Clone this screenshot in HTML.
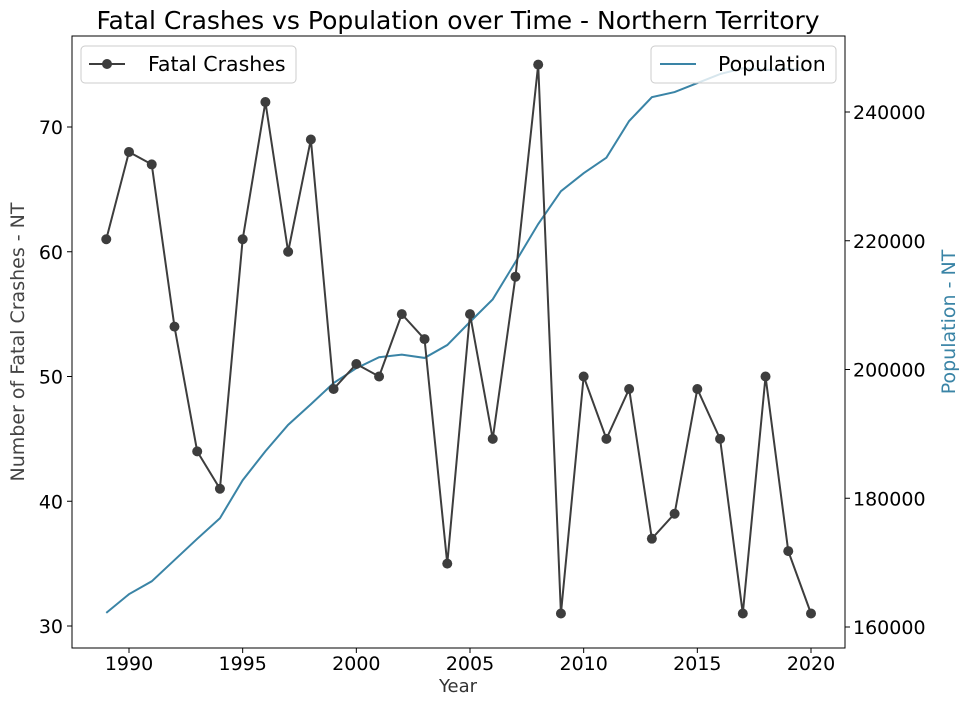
<!DOCTYPE html>
<html><head><meta charset="utf-8"><style>
body{margin:0;background:#fff;}
svg{display:block;font-family:"DejaVu Sans","Liberation Sans",sans-serif;}
</style></head><body>
<svg id="chart" width="969" height="705"></svg>
<script>
const years=[1989,1990,1991,1992,1993,1994,1995,1996,1997,1998,1999,2000,2001,2002,2003,2004,2005,2006,2007,2008,2009,2010,2011,2012,2013,2014,2015,2016,2017,2018,2019,2020];
const crashes=[61,68,67,54,44,41,61,72,60,69,49,51,50,55,53,35,55,45,58,75,31,50,45,49,37,39,49,45,31,50,36,31];
const population=[162200,165100,167100,170400,173700,176900,182800,187300,191400,194600,197900,200200,201900,202300,201800,203800,207400,210900,216700,222600,227700,230500,232900,238600,242300,243100,244500,245900,246800,246500,246700,246500];
const xTicks=[1990,1995,2000,2005,2010,2015,2020];
const yTicks=[30,40,50,60,70];
const y2Ticks=[160000,180000,200000,220000,240000];

const svg=document.getElementById('chart');
const NS='http://www.w3.org/2000/svg';
const L=72,R=845,T=36,B=648;
const x=v=>129+(v-1990)*(811-129)/30;
const y=v=>626-(v-30)*(626-127)/40;
const y2=v=>627-(v-160000)*(627-112)/80000;
function mk(tag,attrs,parent){const e=document.createElementNS(NS,tag);for(const k in attrs)e.setAttribute(k,attrs[k]);(parent||svg).appendChild(e);return e;}

const frame=mk('rect',{x:L,y:T,width:R-L,height:B-T,fill:'none',stroke:'#000','stroke-width':1});



xTicks.forEach(v=>{
  const t=mk('line',{x1:x(v),x2:x(v),y1:B,y2:B+5,stroke:'#000'});
  
  
  const l=mk('text',{x:x(v),y:B+22,'text-anchor':'middle','font-size':19});
  l.textContent=v;
  
  
});
yTicks.forEach(v=>{
  const t=mk('line',{x1:L-5,x2:L,y1:y(v),y2:y(v),stroke:'#000'});
  
  
  const l=mk('text',{x:L-9,y:y(v)+7,'text-anchor':'end','font-size':19});
  l.textContent=v;
  
  
});
y2Ticks.forEach(v=>{
  const t=mk('line',{x1:R,x2:R+5,y1:y2(v),y2:y2(v),stroke:'#000'});
  
  
  const l=mk('text',{x:R+8,y:y2(v)+7,'font-size':19});
  l.textContent=v;
  
  
});

const pl=mk('polyline',{points:years.map((yr,i)=>x(yr)+','+y2(population[i])).join(' '),fill:'none',stroke:'#3a84a6','stroke-width':2});



const cl=mk('polyline',{points:years.map((yr,i)=>x(yr)+','+y(crashes[i])).join(' '),fill:'none',stroke:'#3d3d3d','stroke-width':2});


years.forEach((yr,i)=>{
  const c=mk('circle',{cx:x(yr),cy:y(crashes[i]),r:5,fill:'#3d3d3d'});
  
  
});

const title=mk('text',{x:458,y:29,'text-anchor':'middle','font-size':25});
title.textContent='Fatal Crashes vs Population over Time - Northern Territory';


const xt=mk('text',{x:458,y:692,'text-anchor':'middle','font-size':18,fill:'#333'});
xt.textContent='Year';


const yt=mk('text',{x:0,y:0,'text-anchor':'middle','font-size':19,fill:'#444',transform:'translate(24,342) rotate(-90)'});
yt.textContent='Number of Fatal Crashes - NT';


const y2t=mk('text',{x:0,y:0,'text-anchor':'middle','font-size':19,fill:'#3a84a6',transform:'translate(955,322) rotate(-90)'});
y2t.textContent='Population - NT';



const lg1=mk('g',{});


mk('rect',{x:81,y:46,width:215,height:37,rx:4,fill:'#fff','fill-opacity':0.8,stroke:'#ccc'},lg1);
mk('line',{x1:89,x2:125,y1:64,y2:64,stroke:'#3d3d3d','stroke-width':2},lg1);
mk('circle',{cx:107,cy:64,r:5,fill:'#3d3d3d'},lg1);
const t1=mk('text',{x:148,y:71,'font-size':20.5},lg1);t1.textContent='Fatal Crashes';
const lg2=mk('g',{});


mk('rect',{x:651,y:46,width:185,height:37,rx:4,fill:'#fff','fill-opacity':0.8,stroke:'#ccc'},lg2);
mk('line',{x1:660,x2:696,y1:64,y2:64,stroke:'#3a84a6','stroke-width':2},lg2);
const t2=mk('text',{x:718,y:71,'font-size':20.5},lg2);t2.textContent='Population';
</script>
</body></html>
